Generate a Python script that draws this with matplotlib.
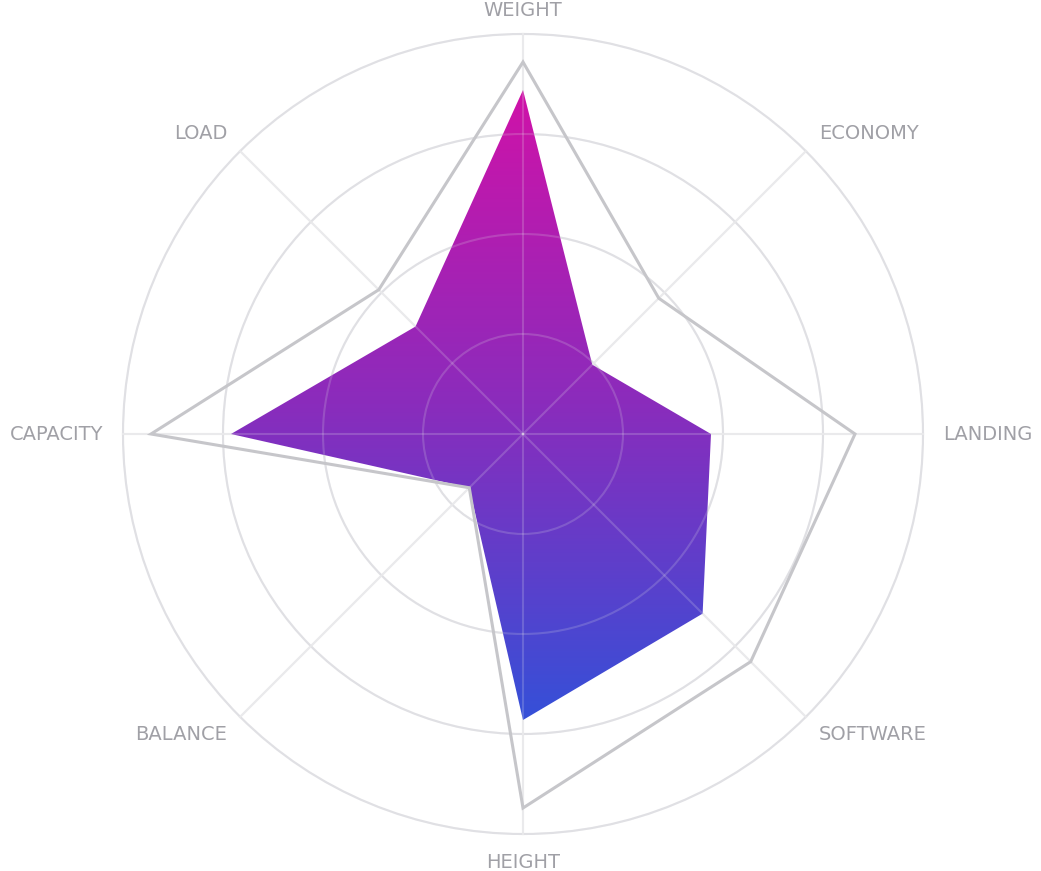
import numpy as np
import matplotlib
matplotlib.use("Agg")
import matplotlib.pyplot as plt
from matplotlib.patches import Polygon, Circle
from matplotlib.colors import LinearSegmentedColormap

# ---------------------------------------------------------------- data
categories = ["WEIGHT", "ECONOMY", "LANDING", "SOFTWARE",
              "HEIGHT", "BALANCE", "CAPACITY", "LOAD"]
series_fill = [0.86, 0.245, 0.47, 0.635, 0.715, 0.19, 0.73, 0.38]
series_line = [0.93, 0.48, 0.83, 0.805, 0.935, 0.19, 0.93, 0.51]
ring_levels = [0.25, 0.5, 0.75, 1.0]

# ---------------------------------------------------------------- canvas
W, H = 1041, 871
CX, CY, R = 523, 434, 400
fig = plt.figure(figsize=(W / 100, H / 100), dpi=100)
ax = fig.add_axes([0, 0, 1, 1])
ax.set_xlim(0, W)
ax.set_ylim(H, 0)
ax.axis("off")

n = len(categories)
ang = np.pi / 2 - np.arange(n) * 2 * np.pi / n   # clockwise from top


def to_xy(vals):
    v = np.asarray(vals)
    return np.column_stack([CX + R * v * np.cos(ang), CY - R * v * np.sin(ang)])


# grid rings + spokes (drawn first and again faintly over the fill)
def grid(alpha=1.0, z=1):
    for lv in ring_levels:
        ax.add_patch(Circle((CX, CY), R * lv, fill=False, lw=1.5,
                            edgecolor="#e0e0e4", alpha=alpha, zorder=z))
    for a in ang:
        ax.plot([CX, CX + R * np.cos(a)], [CY, CY - R * np.sin(a)],
                color="#eaeaec", lw=1.5, alpha=alpha, zorder=z)


grid()

# gradient fill
pts = to_xy(series_fill)
poly = Polygon(pts, closed=True, facecolor="none", edgecolor="none")
ax.add_patch(poly)
cmap = LinearSegmentedColormap.from_list(
    "g", ["#d012a8", "#8a2cbc", "#3550d8"])
top, bot = pts[:, 1].min(), pts[:, 1].max()
grad = np.linspace(0, 1, 256).reshape(-1, 1)
im = ax.imshow(grad, cmap=cmap, aspect="auto",
               extent=(pts[:, 0].min(), pts[:, 0].max(), bot, top),
               zorder=2, interpolation="bilinear")
im.set_clip_path(poly)
ax.set_xlim(0, W)
ax.set_ylim(H, 0)

grid(alpha=0.2, z=3)

# outline series
lp = to_xy(series_line)
ax.add_patch(Polygon(lp, closed=True, fill=False, edgecolor="#c6c6ca",
                     lw=2.2, joinstyle="miter", zorder=4))

# labels
for a, lab in zip(ang, categories):
    c, s = np.cos(a), np.sin(a)
    rr = R + 20
    x, y = CX + rr * c, CY - rr * s
    if abs(c) < 1e-6:
        ha = "center"
        y = CY - (R + 24) * s + (0 if s > 0 else 4)
    elif c > 0:
        ha = "left"
    else:
        ha = "right"
    if abs(c) > 1e-6 and abs(s) > 1e-6:
        x = CX + (R * 0.7071 + 13) * np.sign(c)
        y = CY - (R * 0.7071 + 18) * np.sign(s)
    ax.text(x, y, lab, ha=ha, va="center", fontsize=14,
            color="#a0a0a6", family="DejaVu Sans")

fig.savefig("out.png", dpi=100, facecolor="white")
